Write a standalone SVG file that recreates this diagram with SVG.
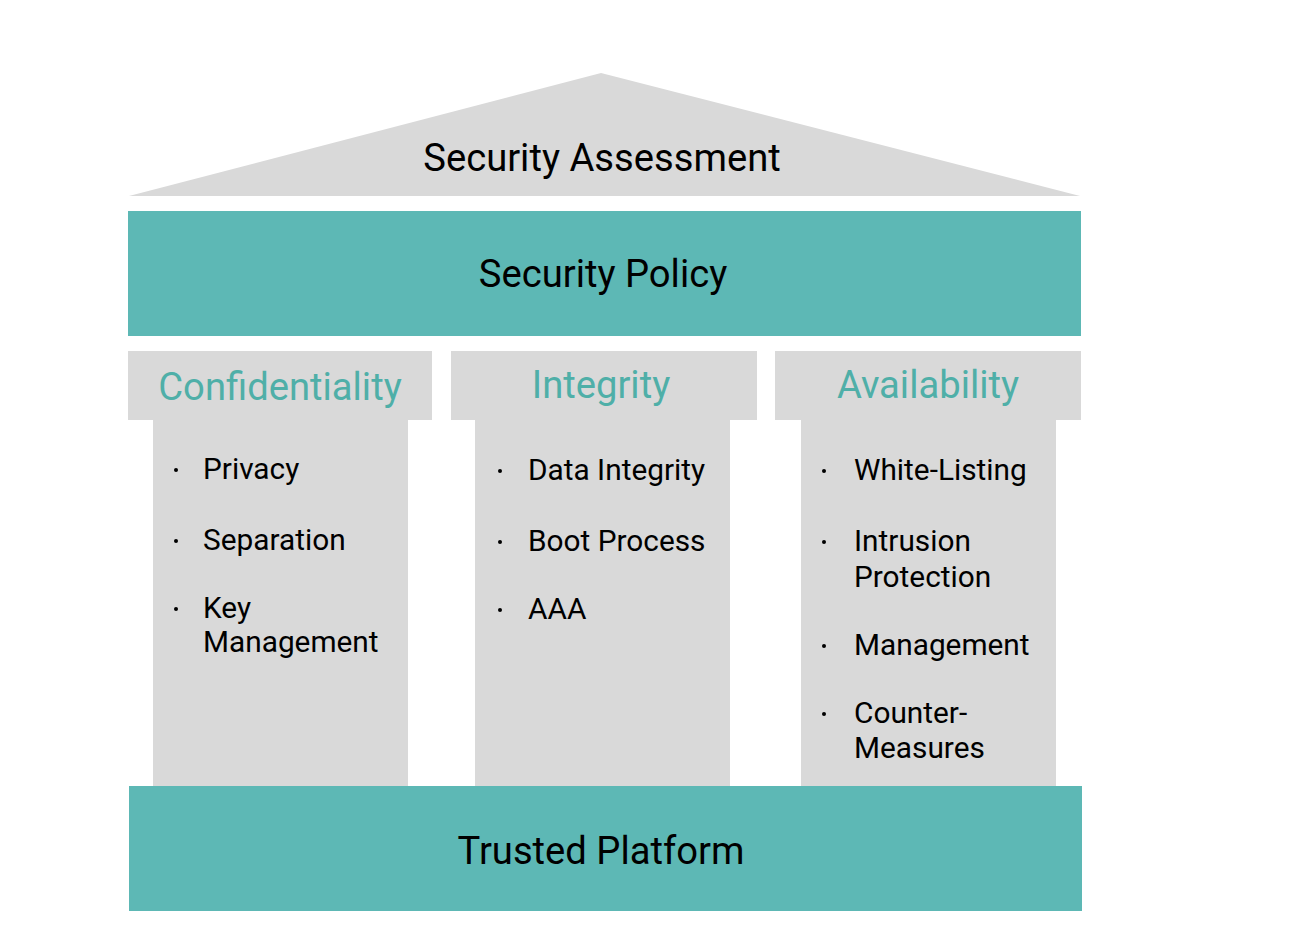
<svg xmlns="http://www.w3.org/2000/svg" width="1314" height="930" viewBox="0 0 1314 930">
<style>
.gray{fill:#D9D9D9}
.teal{fill:#5DB8B5}
.big{font-family:Roboto,"Liberation Sans",sans-serif;font-size:38.2px;fill:#000;text-anchor:middle}
.head{font-family:Roboto,"Liberation Sans",sans-serif;font-size:38.2px;fill:#4FAFA8;text-anchor:middle}
.item{font-family:Roboto,"Liberation Sans",sans-serif;font-size:29.8px;fill:#000}
.dot{fill:#000}
</style>
<rect width="1314" height="930" fill="#fff"/>
<g id="roof">
<polygon class="gray" points="601,73 129,196 1080,196"/>
<text class="big" x="602" y="171">Security Assessment</text>
</g>
<g id="policy">
<rect class="teal" x="128" y="211" width="953" height="125"/>
<text class="big" x="603" y="287">Security Policy</text>
</g>
<g id="confidentiality">
<rect class="gray" x="153" y="420" width="255" height="366"/>
<rect class="gray" x="128" y="351" width="304" height="69"/>
<text class="head" x="280" y="400">Confidentiality</text>
<circle class="dot" cx="176" cy="470" r="2"/>
<circle class="dot" cx="176" cy="541" r="2"/>
<circle class="dot" cx="176" cy="609" r="2"/>
<text class="item" x="203" y="479">Privacy</text>
<text class="item" x="203" y="550">Separation</text>
<text class="item" x="203" y="618">Key</text>
<text class="item" x="203" y="652">Management</text>
</g>
<g id="integrity">
<rect class="gray" x="475" y="420" width="255" height="366"/>
<rect class="gray" x="451" y="351" width="306" height="69"/>
<text class="head" x="601" y="398">Integrity</text>
<circle class="dot" cx="500" cy="471" r="2"/>
<circle class="dot" cx="500" cy="542" r="2"/>
<circle class="dot" cx="500" cy="610" r="2"/>
<text class="item" x="528" y="480">Data Integrity</text>
<text class="item" x="528" y="551">Boot Process</text>
<text class="item" x="528" y="619">AAA</text>
</g>
<g id="availability">
<rect class="gray" x="801" y="420" width="255" height="366"/>
<rect class="gray" x="775" y="351" width="306" height="69"/>
<text class="head" x="928" y="398">Availability</text>
<circle class="dot" cx="824" cy="471" r="2"/>
<circle class="dot" cx="824" cy="542" r="2"/>
<circle class="dot" cx="824" cy="646" r="2"/>
<circle class="dot" cx="824" cy="714" r="2"/>
<text class="item" x="854" y="480">White-Listing</text>
<text class="item" x="854" y="551">Intrusion</text>
<text class="item" x="854" y="587">Protection</text>
<text class="item" x="854" y="655">Management</text>
<text class="item" x="854" y="723">Counter-</text>
<text class="item" x="854" y="758">Measures</text>
</g>
<g id="platform">
<rect class="teal" x="129" y="786" width="953" height="125"/>
<text class="big" x="601" y="864">Trusted Platform</text>
</g>
<g id="connectors"></g>
</svg>
